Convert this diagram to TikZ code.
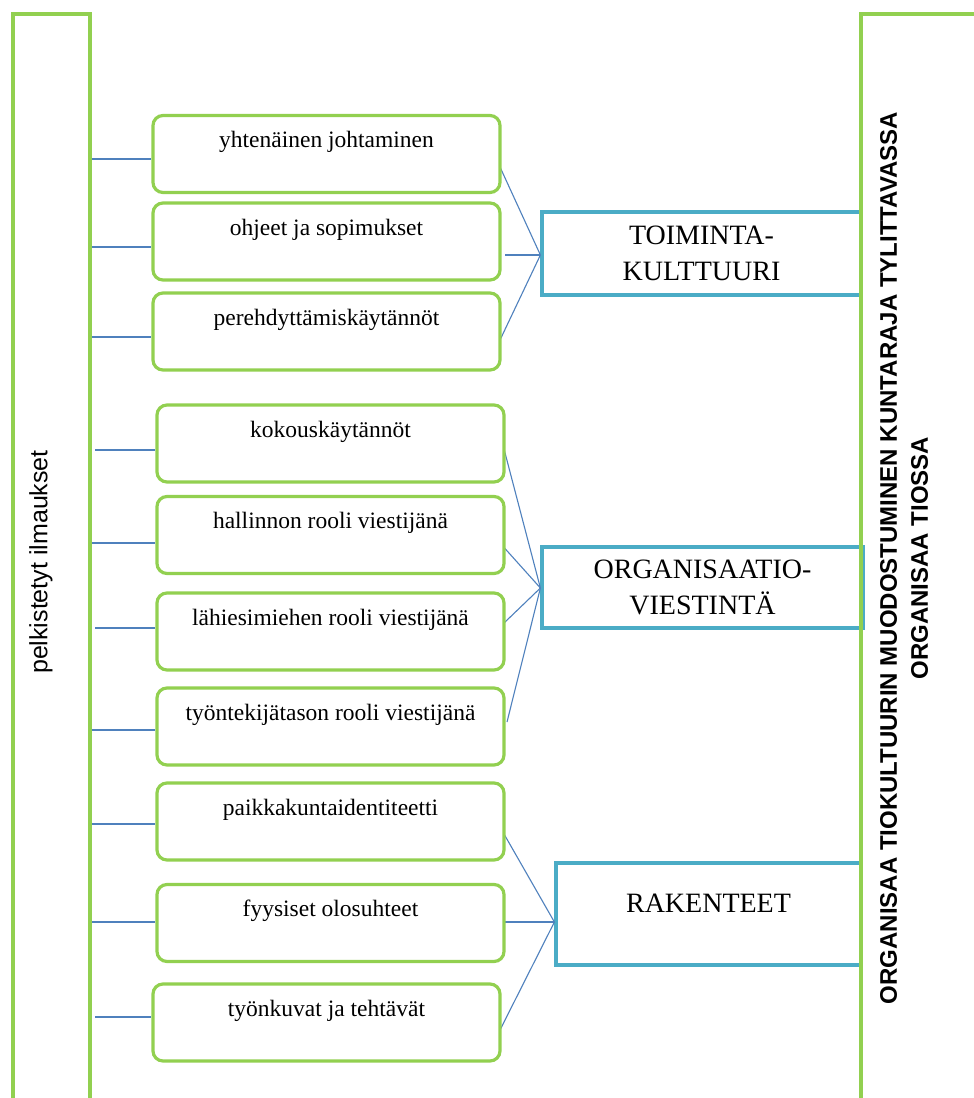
\documentclass[tikz,border=0pt]{standalone}
\usepackage{fontspec}
\setmainfont{Liberation Serif}
\newfontfamily\arialfont{Liberation Sans}
\definecolor{leafgreen}{HTML}{92D050}
\definecolor{tealblue}{HTML}{4BACC6}
\definecolor{linkblue}{HTML}{4F81BD}
\tikzset{
  itembox/.style={draw=leafgreen, line width=3.2pt, rounded corners=10pt, fill=white,
    minimum width=347pt, minimum height=77pt, inner sep=0pt,
    font=\fontsize{23.5}{28}\selectfont, text height=16pt, text depth=29pt},
  themebox/.style={draw=tealblue, line width=3.2pt, fill=white, inner sep=0pt,
    align=center, font=\fontsize{28}{36}\selectfont},
  link/.style={draw=linkblue, line width=1.1pt},
  column/.style={draw=leafgreen, line width=3.4pt, line join=miter}
}
\begin{document}
\begin{tikzpicture}[x=1pt,y=-1pt]
\useasboundingbox (0,0) rectangle (974,1098);
\fill[white] (0,0) rectangle (974,1098);

% theme boxes
\node[themebox, minimum width=319pt, minimum height=83pt] (tk) at (701.5,253.5) {TOIMINTA-\\KULTTUURI};
\node[themebox, minimum width=321pt, minimum height=81pt] (ov) at (702.5,587.5) {ORGANISAATIO-\\VIESTINTÄ};
\node[themebox, minimum width=305pt, minimum height=102pt, text height=20pt, text depth=24pt] (rk) at (708.5,914) {RAKENTEET};

% fan connectors from the items to the themes
\draw[link] (500,167) coordinate (f1) -- (tk.west |- 0,255);
\draw[link] (505,255) coordinate (f2) -- (tk.west |- 0,255);
\draw[link] (500,340) coordinate (f3) -- (tk.west |- 0,255);
\draw[link] (504,449) coordinate (f4) -- (ov.west |- 0,588);
\draw[link] (500,543) coordinate (f5) -- (ov.west |- 0,588);
\draw[link] (504,623) coordinate (f6) -- (ov.west |- 0,588);
\draw[link] (507,722) coordinate (f7) -- (ov.west |- 0,588);
\draw[link] (504,834) coordinate (f8) -- (rk.west |- 0,922);
\draw[link] (504,922) coordinate (f9) -- (rk.west |- 0,922);
\draw[link] (500,1030) coordinate (f10) -- (rk.west |- 0,922);

% item boxes
\node[itembox] (b1) at (326.5,154) {yhtenäinen johtaminen};
\node[itembox] (b2) at (326.5,241.5) {ohjeet ja sopimukset};
\node[itembox] (b3) at (326.5,331.5) {perehdyttämiskäytännöt};
\node[itembox] (b4) at (330.5,443.5) {kokouskäytännöt};
\node[itembox] (b5) at (330.5,535) {hallinnon rooli viestijänä};
\node[itembox] (b6) at (330.5,631.5) {lähiesimiehen rooli viestijänä};
\node[itembox] (b7) at (330.5,726.5) {työntekijätason rooli viestijänä};
\node[itembox] (b8) at (330.5,821.5) {paikkakuntaidentiteetti};
\node[itembox] (b9) at (330.5,923) {fyysiset olosuhteet};
\node[itembox] (b10) at (326.5,1022.5) {työnkuvat ja tehtävät};

% connectors from the left column to the items
\coordinate (l1) at (90,159);
\coordinate (l2) at (90,247);
\coordinate (l3) at (90,337);
\coordinate (l4) at (95,450);
\coordinate (l5) at (90,543);
\coordinate (l6) at (95,628);
\coordinate (l7) at (90,730);
\coordinate (l8) at (90,824);
\coordinate (l9) at (90,922);
\coordinate (l10) at (95,1017);
\foreach \i in {1,...,10} {
  \draw[link] (l\i) -- (l\i -| b\i.west);
}

% side columns
\draw[column] (13,1098) -- (13,14) -- (90,14) -- (90,1098);
\draw[column] (976,14) -- (861,14) -- (861,1098);

\node[rotate=90, inner sep=0pt, font=\arialfont\fontsize{25}{30}\selectfont] (lefttitle) at (41,562) {pelkistetyt ilmaukset};
\node[rotate=90, inner sep=0pt, align=center, font=\arialfont\bfseries\fontsize{24}{31}\selectfont] (righttitle) at (904,558)
  {ORGANISAA TIOKULTUURIN MUODOSTUMINEN KUNTARAJA TYLITTAVASSA\\ORGANISAA TIOSSA};
\end{tikzpicture}
\end{document}
